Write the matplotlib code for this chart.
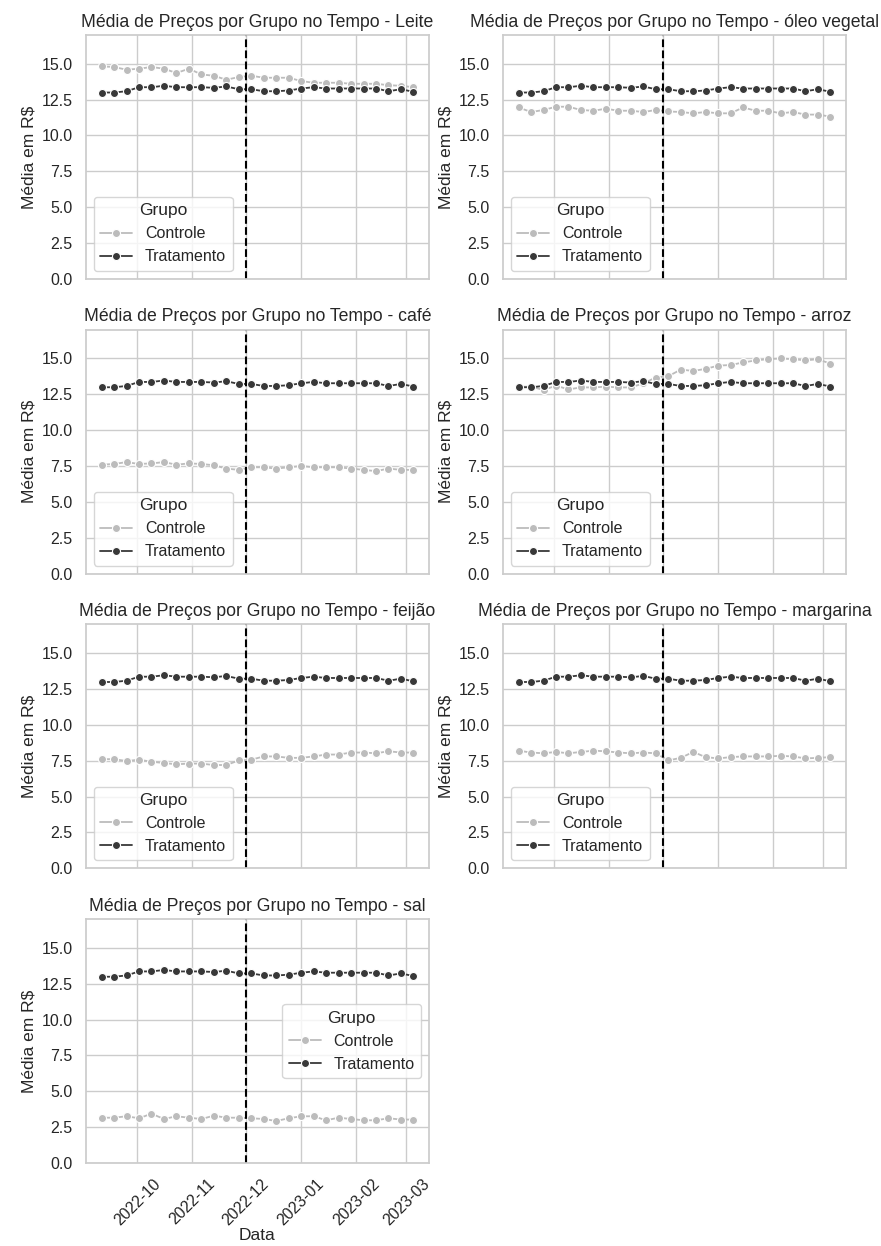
import matplotlib
matplotlib.use("Agg")
import matplotlib.pyplot as plt
import matplotlib.dates as mdates
import pandas as pd
import seaborn as sns

sns.set_theme(style="whitegrid")
plt.rcParams['font.family'] = ['Liberation Sans', 'DejaVu Sans']

dates = pd.date_range("2022-09-11", "2023-03-05", freq="7D")

tratamento = [12.99, 12.99, 13.08, 13.36, 13.36, 13.46, 13.36, 13.36, 13.36, 13.32,
              13.41, 13.22, 13.22, 13.08, 13.08, 13.13, 13.27, 13.36, 13.27, 13.27,
              13.27, 13.27, 13.27, 13.08, 13.22, 13.04]

controle = {
    "Leite": [14.81, 14.77, 14.58, 14.65, 14.77, 14.65, 14.35, 14.65, 14.25, 14.16,
              13.88, 14.07, 14.16, 14.02, 14.02, 14.02, 13.79, 13.67, 13.67, 13.67,
              13.60, 13.60, 13.60, 13.50, 13.46, 13.36],
    "óleo vegetal": [11.95, 11.63, 11.77, 12.00, 12.00, 11.77, 11.72, 11.86, 11.72, 11.72,
                     11.63, 11.77, 11.67, 11.63, 11.54, 11.63, 11.54, 11.54, 11.95, 11.72,
                     11.72, 11.54, 11.63, 11.45, 11.45, 11.31],
    "café": [7.59, 7.64, 7.77, 7.64, 7.68, 7.77, 7.59, 7.68, 7.64, 7.55,
             7.32, 7.23, 7.41, 7.41, 7.32, 7.41, 7.50, 7.41, 7.41, 7.41,
             7.32, 7.23, 7.14, 7.32, 7.23, 7.23],
    "arroz": [13.03, 13.03, 12.80, 13.10, 12.84, 12.98, 12.98, 13.03, 12.98, 12.98,
              13.26, 13.67, 13.76, 14.22, 14.13, 14.27, 14.50, 14.54, 14.72, 14.86,
              14.95, 15.00, 14.95, 14.86, 14.95, 14.63],
    "feijão": [7.61, 7.61, 7.48, 7.57, 7.43, 7.34, 7.25, 7.30, 7.30, 7.20,
               7.20, 7.52, 7.57, 7.80, 7.80, 7.70, 7.70, 7.80, 7.93, 7.93,
               8.07, 8.07, 8.02, 8.16, 8.07, 8.07],
    "margarina": [8.20, 8.07, 8.02, 8.11, 8.02, 8.11, 8.20, 8.16, 8.07, 8.02,
                  8.07, 8.02, 7.52, 7.70, 8.11, 7.75, 7.66, 7.75, 7.80, 7.80,
                  7.80, 7.84, 7.80, 7.66, 7.70, 7.75],
    "sal": [3.16, 3.16, 3.26, 3.12, 3.44, 3.07, 3.26, 3.16, 3.07, 3.30,
            3.16, 3.16, 3.12, 3.07, 2.93, 3.12, 3.26, 3.26, 2.98, 3.16,
            3.07, 2.98, 2.98, 3.12, 3.03, 3.03],
}

grupos = ["Controle", "Tratamento"]
cores = {"Controle": "#bcbcbc", "Tratamento": "#383838"}
data_corte = pd.Timestamp("2022-12-01")
legend_locs = {"sal": "center right"}

fig, axes = plt.subplots(4, 2, figsize=(8.81, 12.46), dpi=100, sharex=True)
fig.subplots_adjust(left=0.0976, right=0.9603, bottom=0.0666, top=0.9719,
                    wspace=0.2157, hspace=0.209)
flat = axes.flatten()

for ax, (produto, vals) in zip(flat, controle.items()):
    series = {"Controle": vals, "Tratamento": tratamento}
    for g in grupos:
        ax.plot(dates, series[g], color=cores[g], marker="o", markersize=5.8,
                markeredgecolor="white", markeredgewidth=0.8, linewidth=1.3,
                label=g)
    ax.axvline(data_corte, color="black", linestyle="--", linewidth=1.5)
    ax.set_ylim(0, 17)
    ax.set_title(f"Média de Preços por Grupo no Tempo - {produto}", fontsize=12.7)
    ax.set_ylabel("Média em R$", fontsize=12.5)
    ax.tick_params(axis="both", labelsize=11.5)
    ax.legend(title="Grupo", loc=legend_locs.get(produto, "lower left"),
              fontsize=11.5, title_fontsize=12.5)

fig.delaxes(flat[7])

ax_last = flat[6]
ax_last.xaxis.set_major_locator(mdates.MonthLocator())
ax_last.xaxis.set_major_formatter(mdates.DateFormatter("%Y-%m"))
for lbl in ax_last.get_xticklabels():
    lbl.set_rotation(45)
    lbl.set_ha("center")
ax_last.set_xlabel("Data", fontsize=12.5, labelpad=0)

fig.savefig("out.png", dpi=100)
